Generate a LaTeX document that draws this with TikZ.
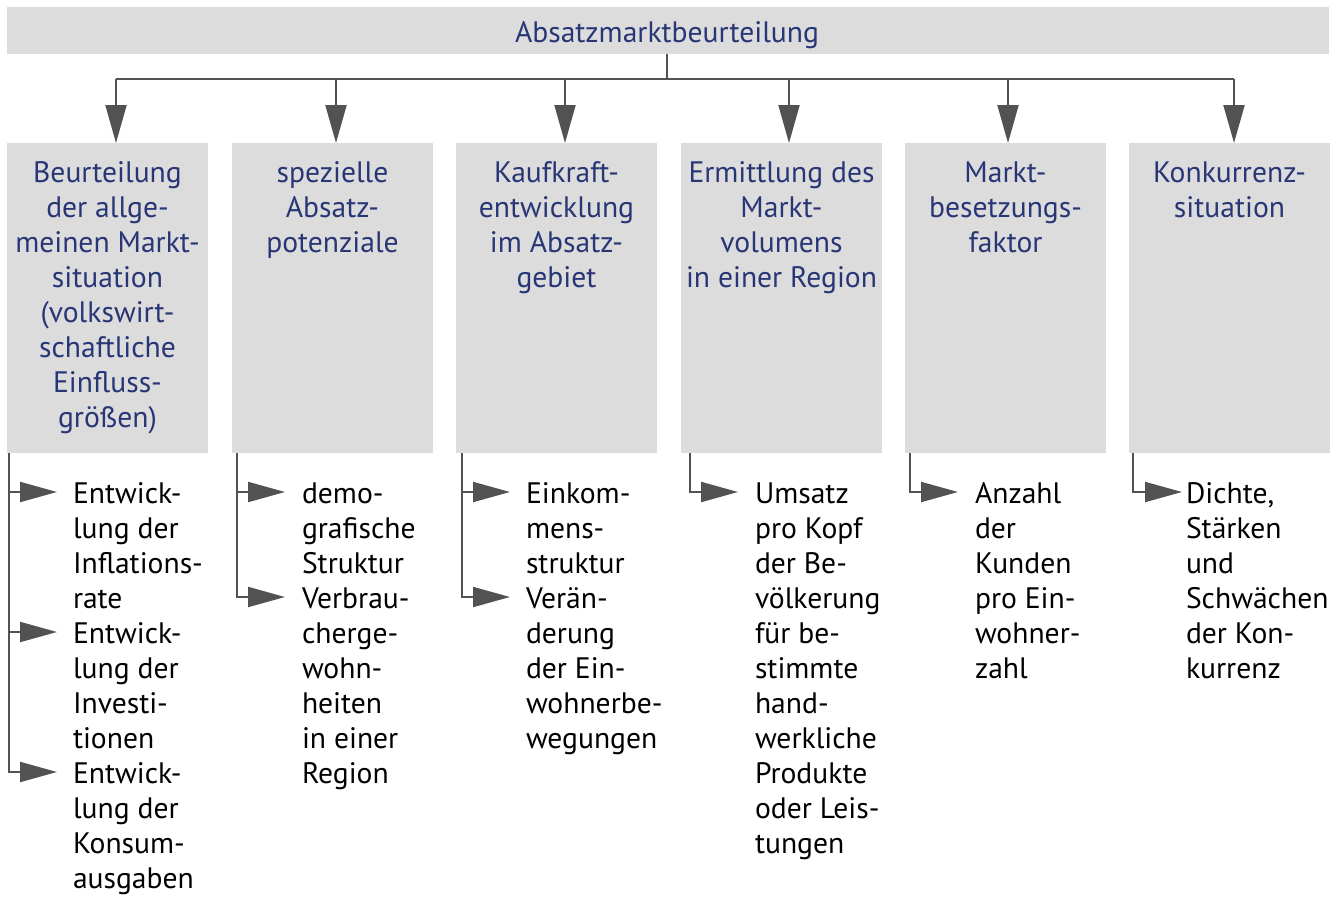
\documentclass[tikz,border=0pt]{standalone}
\usepackage{fontspec}
\setmainfont{PT Sans}
\usetikzlibrary{arrows.meta}
\definecolor{boxgray}{RGB}{220,220,220}
\definecolor{navy}{RGB}{40,54,118}
\definecolor{linegray}{RGB}{82,82,82}
\begin{document}
\begin{tikzpicture}[x=0.5pt,y=-0.5pt,
  every node/.style={inner sep=0pt, outer sep=0pt},
  topbar/.style={fill=boxgray, minimum width=661pt, minimum height=23.5pt, anchor=north west},
  box/.style={fill=boxgray, minimum width=100.5pt, minimum height=155pt, anchor=north west},
  lbl/.style={anchor=north, align=center, text=navy, font=\fontsize{14.8}{17.5}\selectfont},
  item/.style={anchor=north west, align=left, text=black, font=\fontsize{14.8}{17.5}\selectfont},
  conn/.style={draw=linegray, line width=1pt},
  downarr/.style={conn, -{Triangle[length=19pt,width=10.5pt]}},
  sidearr/.style={conn, -{Triangle[length=18.5pt,width=10pt]}}]
\useasboundingbox (0,0) rectangle (1336,904);

% top
\node[topbar] (top) at (7,7) {};
\node[anchor=base, text=navy, font=\fontsize{14.8}{17.5}\selectfont] (toptxt) at (667,43) {Absatzmarktbeurteilung};

% boxes
\node[box] (b1) at (7,143) {};
\node[box] (b2) at (232,143) {};
\node[box] (b3) at (456,143) {};
\node[box] (b4) at (681,143) {};
\node[box] (b5) at (905,143) {};
\node[box] (b6) at (1129,143) {};

% box labels
\node[lbl] (l1) at ([yshift=-7.25pt]b1.north) {\strut Beurteilung\\der allge-\\meinen Markt-\\situation\\(volkswirt-\\schaftliche\\Einfluss-\\größen)};
\node[lbl] (l2) at ([yshift=-7.25pt]b2.north) {\strut spezielle\\Absatz-\\potenziale};
\node[lbl] (l3) at ([yshift=-7.25pt]b3.north) {\strut Kaufkraft-\\entwicklung\\im Absatz-\\gebiet};
\node[lbl] (l4) at ([yshift=-7.25pt]b4.north) {\strut Ermittlung des\\Markt-\\volumens\\in einer Region};
\node[lbl] (l5) at ([yshift=-7.25pt]b5.north) {\strut Markt-\\besetzungs-\\faktor};
\node[lbl] (l6) at ([yshift=-7.25pt]b6.north) {\strut Konkurrenz-\\situation};

% top connectors
\coordinate (j) at (667,79);
\coordinate (h1) at (116,79);
\coordinate (h2) at (336,79);
\coordinate (h3) at (565,79);
\coordinate (h4) at (789,79);
\coordinate (h5) at (1008,79);
\coordinate (h6) at (1234,79);
\draw[conn] (top.south -| j) -- (j);
\draw[conn] (h1) -- (h6);
\foreach \i in {1,...,6} {
  \draw[downarr] (h\i) -- (h\i |- b\i.north);
}

% items
\node[item] (i11) at (73,478.5) {\strut Entwick-\\lung der\\Inflations-\\rate};
\node[item] (i12) at (73,618.5) {\strut Entwick-\\lung der\\Investi-\\tionen};
\node[item] (i13) at (73,758.5) {\strut Entwick-\\lung der\\Konsum-\\ausgaben};
\node[item] (i21) at (302,478.5) {\strut demo-\\grafische\\Struktur};
\node[item] (i22) at (302,583.5) {\strut Verbrau-\\cherge-\\wohn-\\heiten\\in einer\\Region};
\node[item] (i31) at (526,478.5) {\strut Einkom-\\mens-\\struktur};
\node[item] (i32) at (526,583.5) {\strut Verän-\\derung\\der Ein-\\wohnerbe-\\wegungen};
\node[item] (i41) at (755,478.5) {\strut Umsatz\\pro Kopf\\der Be-\\völkerung\\für be-\\stimmte\\hand-\\werkliche\\Produkte\\oder Leis-\\tungen};
\node[item] (i51) at (975,478.5) {\strut Anzahl\\der\\Kunden\\pro Ein-\\wohner-\\zahl};
\node[item] (i61) at (1186,478.5) {\strut Dichte,\\Stärken\\und\\Schwächen\\der Kon-\\kurrenz};

% side connectors
\coordinate (v1) at (9,453);
\coordinate (v2) at (237,453);
\coordinate (v3) at (462,453);
\coordinate (v4) at (690,453);
\coordinate (v5) at (910,453);
\coordinate (v6) at (1133,453);
\draw[sidearr] (v1) |- ([xshift=-8pt,yshift=-6.75pt]i11.north west);
\draw[sidearr] (v1) |- ([xshift=-8pt,yshift=-6.75pt]i12.north west);
\draw[sidearr] (v1) |- ([xshift=-8pt,yshift=-6.75pt]i13.north west);
\draw[sidearr] (v2) |- ([xshift=-8.5pt,yshift=-6.75pt]i21.north west);
\draw[sidearr] (v2) |- ([xshift=-8.5pt,yshift=-6.75pt]i22.north west);
\draw[sidearr] (v3) |- ([xshift=-8pt,yshift=-6.75pt]i31.north west);
\draw[sidearr] (v3) |- ([xshift=-8pt,yshift=-6.75pt]i32.north west);
\draw[sidearr] (v4) |- ([xshift=-8.5pt,yshift=-6.75pt]i41.north west);
\draw[sidearr] (v5) |- ([xshift=-8.5pt,yshift=-6.75pt]i51.north west);
\draw[sidearr] (v6) |- ([xshift=-2pt,yshift=-6.75pt]i61.north west);
\end{tikzpicture}
\end{document}
